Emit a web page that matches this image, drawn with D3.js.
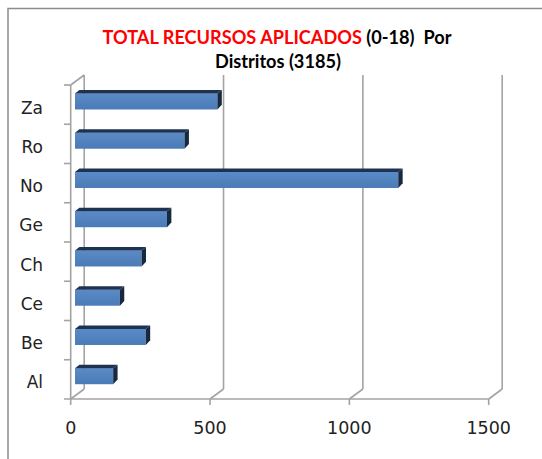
<!DOCTYPE html>
<html>
<head>
<meta charset="utf-8">
<script src="https://cdn.jsdelivr.net/npm/d3@7"></script>
<style>
  body { margin: 0; background: #fff; }
  svg { display: block; }
</style>
</head>
<body>
<svg id="chart" width="542" height="459"></svg>
<script>
// data
var categories = ["Al", "Be", "Ce", "Ch", "Ge", "No", "Ro", "Za"];
var values = [137, 254, 161, 239, 330, 1160, 393, 511];
var xTicks = [0, 500, 1000, 1500];
var titleRed = "TOTAL RECURSOS APLICADOS";
var titleRest = " (0-18)  Por";
var titleLine2 = "Distritos (3185)";

var svg = d3.select("#chart");

// 3d geometry: wall depth and bar depth
var DX = 13.5, DY = -10;
var BX = 4.3, BY = -3.2;
var bdx = 4.4, bdy = -3.3;

var floorY = 399, topY = 85;

var x = d3.scaleLinear().domain([0, 1500]).range([70.7, 488.7]);
var y = d3.scaleBand().domain(categories).range([floorY, topY])
    .paddingInner(0.59).paddingOuter(0.295);

// outer frame (cropped on right and bottom)
svg.append("path")
    .attr("d", "M8,459 L8,8.5 L542,8.5")
    .attr("fill", "none")
    .attr("stroke", "#8c8c8c")
    .attr("stroke-width", 1.5);

// title
var title = svg.append("g")
    .attr("font-family", "Lato, 'Open Sans', sans-serif")
    .attr("font-weight", "bold")
    .attr("text-anchor", "middle");

var t1 = title.append("text").attr("x", 277).attr("y", 43.5).attr("font-size", 16);
t1.append("tspan").attr("fill", "#ff0000").text(titleRed);
t1.append("tspan").attr("fill", "#000").attr("xml:space", "preserve").text(titleRest);
var t2 = title.append("text").attr("x", 278).attr("y", 68).attr("font-size", 16)
    .attr("fill", "#000").text(titleLine2);

var fs = 16 * 349 / t1.node().getComputedTextLength();
t1.attr("font-size", fs);
t2.attr("font-size", fs);

var grid = svg.append("g")
    .attr("fill", "none")
    .attr("stroke", "#a3a3a3")
    .attr("stroke-width", 1.6);

// back wall gridlines
grid.selectAll(".back")
    .data(xTicks)
    .enter().append("line")
    .attr("x1", function(d) { return x(d) + DX; })
    .attr("x2", function(d) { return x(d) + DX; })
    .attr("y1", topY + DY)
    .attr("y2", floorY + DY);

// floor diagonals
grid.selectAll(".floor")
    .data(xTicks)
    .enter().append("line")
    .attr("x1", function(d) { return x(d); })
    .attr("x2", function(d) { return x(d) + DX; })
    .attr("y1", floorY)
    .attr("y2", floorY + DY);

// front floor line + value ticks
grid.append("line")
    .attr("x1", 64).attr("x2", x(1500))
    .attr("y1", floorY).attr("y2", floorY);
grid.selectAll(".vt")
    .data(xTicks)
    .enter().append("line")
    .attr("x1", function(d) { return x(d); })
    .attr("x2", function(d) { return x(d); })
    .attr("y1", floorY)
    .attr("y2", floorY + 6);

// left wall: front vertical, top diagonal, category ticks
grid.append("line")
    .attr("x1", x(0)).attr("x2", x(0))
    .attr("y1", topY).attr("y2", floorY);
grid.append("line")
    .attr("x1", x(0)).attr("x2", x(0) + DX)
    .attr("y1", topY).attr("y2", topY + DY);
grid.selectAll(".ct")
    .data(d3.range(categories.length))
    .enter().append("line")
    .attr("x1", 64)
    .attr("x2", x(0))
    .attr("y1", function(i) { return topY + i * y.step(); })
    .attr("y2", function(i) { return topY + i * y.step(); });

// bar gradient
var grad = svg.append("defs").append("linearGradient")
    .attr("id", "barFront")
    .attr("x1", 0).attr("y1", 0).attr("x2", 0).attr("y2", 1);
grad.append("stop").attr("offset", "0%").attr("stop-color", "#5a8bc6");
grad.append("stop").attr("offset", "100%").attr("stop-color", "#4b7bb6");

var bars = svg.append("g").selectAll("g")
    .data(categories.map(function(c, i) { return {cat: c, value: values[i]}; }))
    .enter().append("g");

bars.append("rect")
    .attr("x", x(0) + BX)
    .attr("y", function(d) { return y(d.cat) + BY; })
    .attr("width", function(d) { return x(d.value) - x(0); })
    .attr("height", y.bandwidth())
    .attr("fill", "url(#barFront)");

bars.append("path")
    .attr("fill", "#1e3352")
    .attr("d", function(d) {
        var x0 = x(0) + BX, x1 = x(d.value) + BX, y0 = y(d.cat) + BY;
        return "M" + x0 + "," + y0 + "L" + x1 + "," + y0 +
            "L" + (x1 + bdx) + "," + (y0 + bdy) + "L" + (x0 + bdx) + "," + (y0 + bdy) + "Z";
    });

bars.append("path")
    .attr("fill", "#17283f")
    .attr("d", function(d) {
        var x1 = x(d.value) + BX, y0 = y(d.cat) + BY, h = y.bandwidth();
        return "M" + x1 + "," + y0 + "L" + (x1 + bdx) + "," + (y0 + bdy) +
            "L" + (x1 + bdx) + "," + (y0 + h + bdy - 1.5) + "L" + x1 + "," + (y0 + h) + "Z";
    });

// category labels
svg.append("g").selectAll("text")
    .data(categories)
    .enter().append("text")
    .attr("x", 43)
    .attr("y", function(d) { return y(d) + y.bandwidth() / 2 + 9; })
    .attr("text-anchor", "end")
    .attr("font-family", "'DejaVu Sans', sans-serif")
    .attr("font-size", 17)
    .attr("fill", "#222")
    .text(function(d) { return d; });

// value tick labels
svg.append("g").selectAll("text")
    .data(xTicks)
    .enter().append("text")
    .attr("x", function(d) { return x(d); })
    .attr("y", 434)
    .attr("text-anchor", "middle")
    .attr("font-family", "'DejaVu Sans', sans-serif")
    .attr("font-size", 17.5)
    .attr("fill", "#222")
    .text(function(d) { return d; });
</script>
</body>
</html>
